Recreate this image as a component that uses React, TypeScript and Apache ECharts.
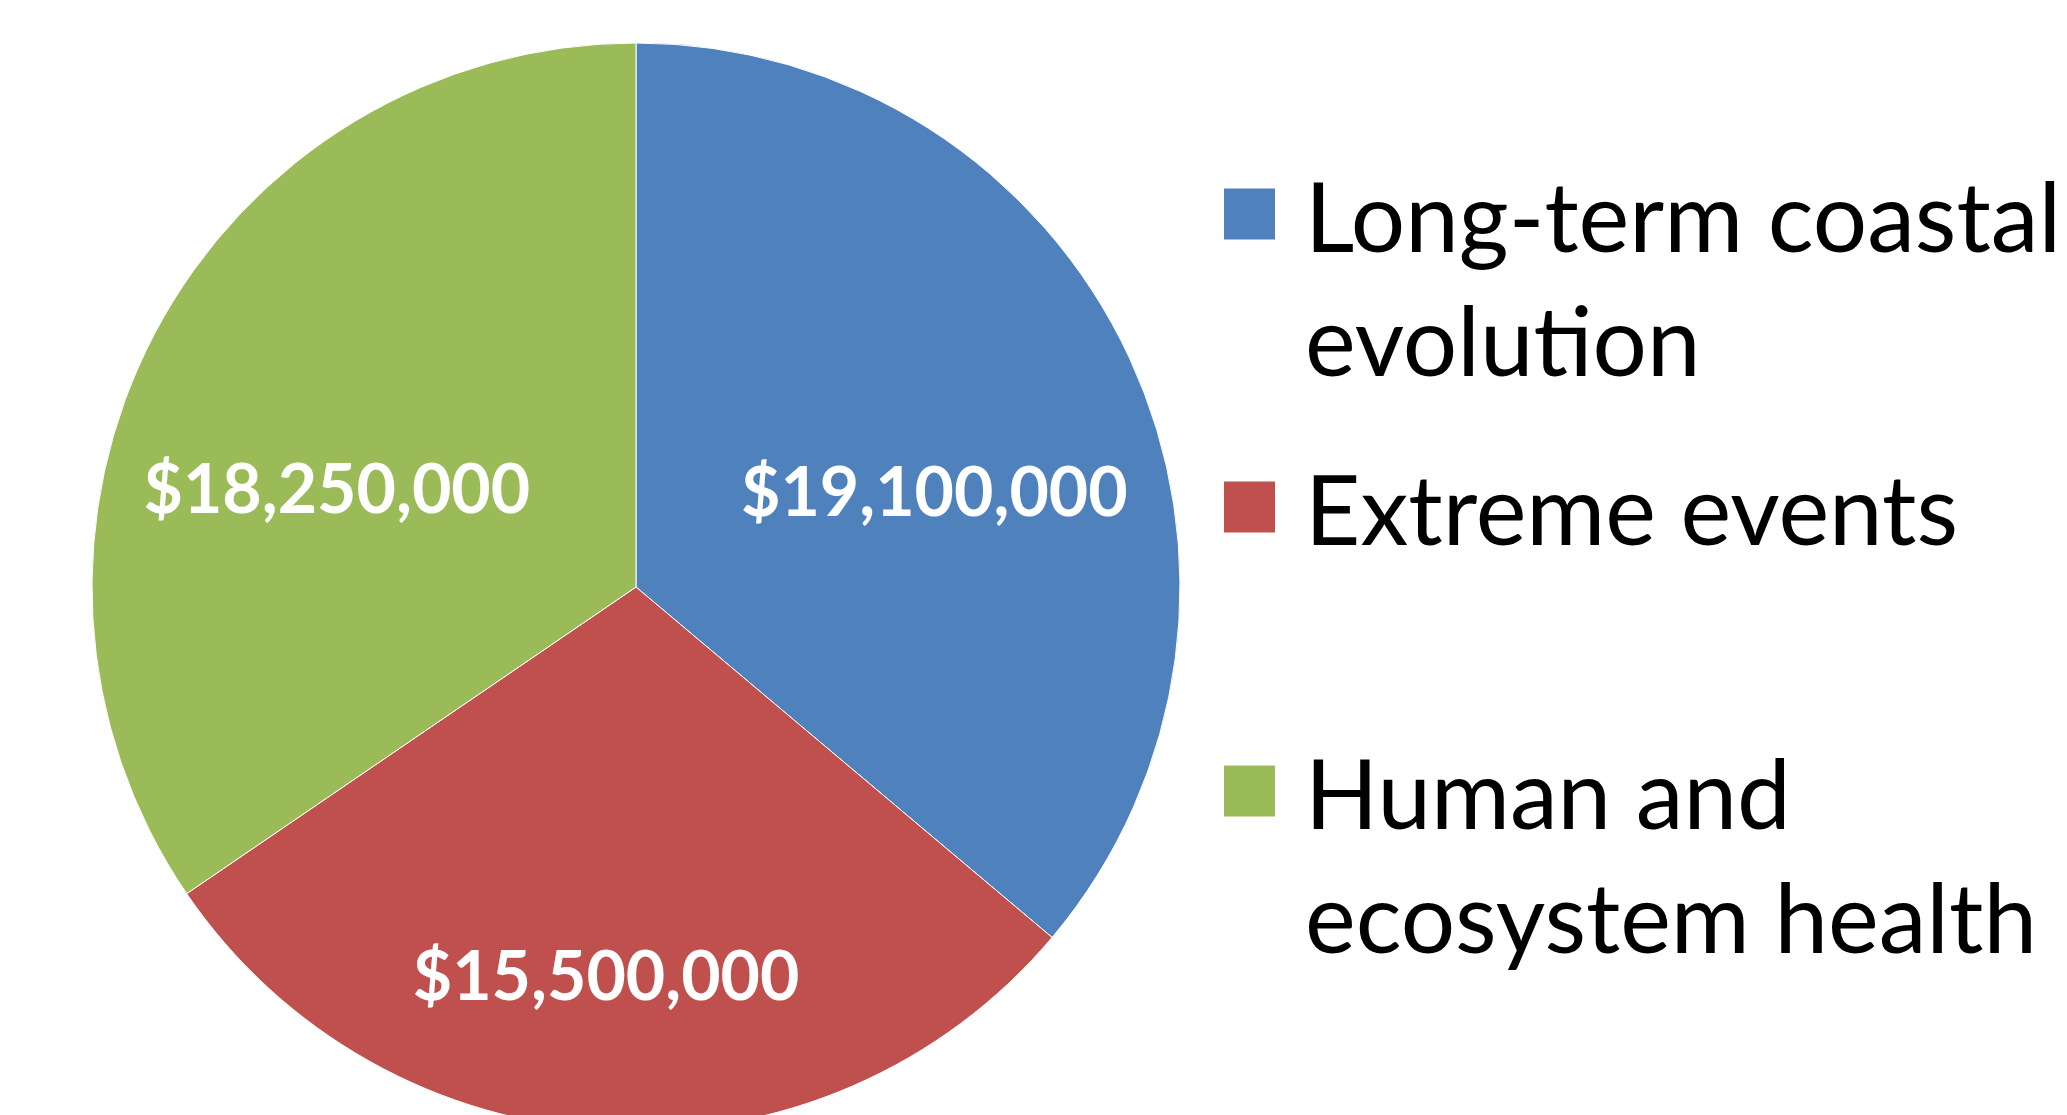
import React, { useEffect, useRef } from "react";
import * as echarts from "echarts";

const categories = [
  "Long-term coastal\nevolution",
  "Extreme events",
  "Human and\necosystem health",
];
const values = [19100000, 15500000, 18250000];
const colors = ["#4F81BD", "#C0504D", "#9BBB59"];

const fmt = (v: number) => "$" + v.toLocaleString("en-US");

export default function App() {
  const ref = useRef<HTMLDivElement>(null);
  useEffect(() => {
    document.body.style.margin = "0";
    const chart = echarts.init(ref.current!, null, { renderer: "svg" });
    const L = 124;
    const labelShift = [
      [49, 18],
      [-16, 112],
      [-56, 28],
    ];
    const iconCenters = [214, 507, 791];
    const legends = categories.map((name, i) => {
      const lines = name.split("\n").length;
      const shown = lines > 1 ? 3 : 1;
      const blockH = shown * L;
      return {
        data: [name],
        orient: "vertical",
        left: 1217,
        top: iconCenters[i] - blockH / 2 - 5,
        icon: "rect",
        itemWidth: 53,
        itemHeight: 53,
        selectedMode: false,
        formatter: (n: string) => (n.indexOf("\n") >= 0 ? " \n" + n : n),
        textStyle: {
          fontFamily: "Lato",
          fontSize: 96,
          color: "#000",
          lineHeight: L,
          padding: [0, 0, 0, 24],
        },
      };
    });
    chart.setOption({
      animation: false,
      backgroundColor: "#fff",
      color: colors,
      legend: legends,
      series: [
        {
          type: "pie",
          center: [636, 587],
          radius: 544,
          startAngle: 90,
          clockwise: true,
          itemStyle: { borderColor: "#fff", borderWidth: 1 },
          label: {
            show: true,
            position: "inside",
            formatter: (p: any) => fmt(p.value),
            color: "#fff",
            fontFamily: "Lato",
            fontWeight: "bold",
            fontSize: 68,
          },
          labelLayout: (p: any) => ({
            dx: labelShift[p.dataIndex][0],
            dy: labelShift[p.dataIndex][1],
          }),
          emphasis: { disabled: true },
          data: categories.map((name, i) => ({ name, value: values[i] })),
        },
      ],
    });
    return () => chart.dispose();
  }, []);
  return <div ref={ref} style={{ width: 2067, height: 1115 }} />;
}
